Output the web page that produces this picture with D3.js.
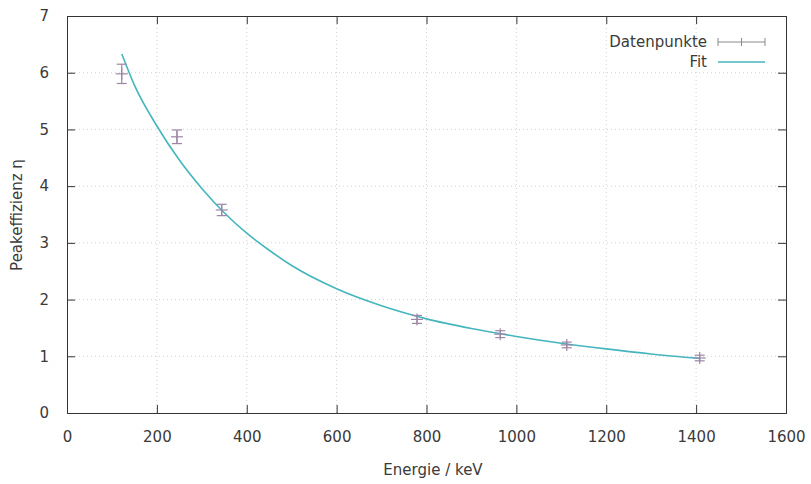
<!DOCTYPE html>
<html>
<head>
<meta charset="utf-8">
<script src="https://cdn.jsdelivr.net/npm/d3@7"></script>
<style>
  html, body { margin: 0; padding: 0; background: #fff; }
  svg { display: block; }
  text { font-family: "DejaVu Sans", Verdana, sans-serif; fill: #3a3a3a; }
</style>
</head>
<body>
<svg id="chart" width="811" height="484"></svg>
<script>
// ---- data ----
const energies = [121.8, 244.7, 344.3, 778.9, 964.1, 1112.1, 1408.0];
const efficiency = [5.98, 4.87, 3.58, 1.65, 1.39, 1.20, 0.97];
const efficiencyErr = [0.17, 0.12, 0.10, 0.07, 0.06, 0.05, 0.05];

const fitEnergy = [122, 150, 200, 250, 300, 350, 400, 450, 500, 600, 700, 800, 900, 1000, 1100, 1200, 1300, 1408];
const fitEff = [6.33, 5.78, 5.06, 4.46, 3.96, 3.53, 3.17, 2.87, 2.60, 2.19, 1.89, 1.66, 1.49, 1.35, 1.23, 1.13, 1.04, 0.96];

const xTicks = [0, 200, 400, 600, 800, 1000, 1200, 1400, 1600];
const yTicks = [0, 1, 2, 3, 4, 5, 6, 7];

const legendLabels = ["Datenpunkte", "Fit"];

// ---- layout ----
const svg = d3.select("#chart");
const pL = 67, pR = 786, pT = 16, pB = 413;
const x = d3.scaleLinear().domain([0, 1600]).range([pL, pR]);
const y = d3.scaleLinear().domain([0, 7]).range([pB, pT]);

const pointColor = "#9c86a6";
const fitColor = "#45b5be";
const frameColor = "#333";

// grid
const grid = svg.append("g");
grid.selectAll("line.gx").data(xTicks.slice(1, -1)).join("line")
  .attr("x1", d => x(d)).attr("x2", d => x(d)).attr("y1", pT).attr("y2", pB)
  .attr("stroke", "#d2d2d2").attr("stroke-width", 1).attr("stroke-dasharray", "1,3");
grid.selectAll("line.gy").data(yTicks.slice(1, -1)).join("line")
  .attr("y1", d => y(d)).attr("y2", d => y(d)).attr("x1", pL).attr("x2", pR)
  .attr("stroke", "#d2d2d2").attr("stroke-width", 1).attr("stroke-dasharray", "1,3");

// axes (ticks inside, mirrored)
const tl = 8;
const axB = svg.append("g").attr("transform", `translate(0,${pB})`)
  .call(d3.axisBottom(x).tickValues(xTicks).tickSize(-tl).tickPadding(18).tickFormat(d3.format("d")));
const axT = svg.append("g").attr("transform", `translate(0,${pT})`)
  .call(d3.axisTop(x).tickValues(xTicks).tickSize(-tl).tickFormat(""));
const axL = svg.append("g").attr("transform", `translate(${pL},0)`)
  .call(d3.axisLeft(y).tickValues(yTicks).tickSize(-tl).tickPadding(18).tickFormat(d3.format("d")));
const axR = svg.append("g").attr("transform", `translate(${pR},0)`)
  .call(d3.axisRight(y).tickValues(yTicks).tickSize(-tl).tickFormat(""));
[axB, axT, axL, axR].forEach(a => {
  a.select(".domain").attr("stroke", frameColor);
  a.selectAll(".tick line").attr("stroke", frameColor);
  a.selectAll(".tick text").attr("font-size", 15).attr("fill", "#3a3a3a")
    .style("font-family", "'DejaVu Sans', Verdana, sans-serif");
});
// remove end ticks at corners
axB.selectAll(".tick").filter(d => d === 0 || d === 1600).select("line").remove();
axT.selectAll(".tick").filter(d => d === 0 || d === 1600).select("line").remove();
axL.selectAll(".tick").filter(d => d === 0 || d === 7).select("line").remove();
axR.selectAll(".tick").filter(d => d === 0 || d === 7).select("line").remove();

// axis labels
svg.append("text").attr("x", 433).attr("y", 475).attr("text-anchor", "middle")
  .attr("font-size", 15).text("Energie / keV");
svg.append("text").attr("transform", "translate(22,215) rotate(-90)")
  .attr("text-anchor", "middle").attr("font-size", 15).text("Peakeffizienz η");

// fit curve
const line = d3.line().x(d => x(d[0])).y(d => y(d[1])).curve(d3.curveMonotoneX);
svg.append("path").datum(fitEnergy.map((e, i) => [e, fitEff[i]]))
  .attr("d", line).attr("fill", "none").attr("stroke", fitColor).attr("stroke-width", 1.6);

// data points with error bars
const pts = svg.append("g").selectAll("g").data(energies.map((e, i) => ({e, v: efficiency[i], err: efficiencyErr[i]}))).join("g");
const cap = 5, mark = 6;
pts.append("line").attr("x1", d => x(d.e)).attr("x2", d => x(d.e))
  .attr("y1", d => y(d.v - d.err)).attr("y2", d => y(d.v + d.err))
  .attr("stroke", pointColor).attr("stroke-width", 1.2);
pts.append("line").attr("x1", d => x(d.e) - cap).attr("x2", d => x(d.e) + cap)
  .attr("y1", d => y(d.v + d.err)).attr("y2", d => y(d.v + d.err))
  .attr("stroke", pointColor).attr("stroke-width", 1.2);
pts.append("line").attr("x1", d => x(d.e) - cap).attr("x2", d => x(d.e) + cap)
  .attr("y1", d => y(d.v - d.err)).attr("y2", d => y(d.v - d.err))
  .attr("stroke", pointColor).attr("stroke-width", 1.2);
pts.append("line").attr("x1", d => x(d.e) - mark).attr("x2", d => x(d.e) + mark)
  .attr("y1", d => y(d.v)).attr("y2", d => y(d.v))
  .attr("stroke", pointColor).attr("stroke-width", 1.2);
pts.append("line").attr("x1", d => x(d.e)).attr("x2", d => x(d.e))
  .attr("y1", d => y(d.v) - mark).attr("y2", d => y(d.v) + mark)
  .attr("stroke", pointColor).attr("stroke-width", 1.2);

// legend
const lg = svg.append("g");
const lx = 707, ly1 = 42, ly2 = 62;
lg.append("text").attr("x", lx).attr("y", ly1 + 5).attr("text-anchor", "end").attr("font-size", 15).text(legendLabels[0]);
lg.append("text").attr("x", lx).attr("y", ly2 + 5).attr("text-anchor", "end").attr("font-size", 15).text(legendLabels[1]);
const s0 = 718, s1 = 765;
lg.append("line").attr("x1", s0).attr("x2", s1).attr("y1", ly1).attr("y2", ly1).attr("stroke", "#8a8a8a").attr("stroke-width", 1);
[s0, (s0 + s1) / 2, s1].forEach(xx => {
  lg.append("line").attr("x1", xx).attr("x2", xx).attr("y1", ly1 - 4).attr("y2", ly1 + 4).attr("stroke", "#8a8a8a").attr("stroke-width", 1);
});
lg.append("line").attr("x1", s0).attr("x2", s1).attr("y1", ly2).attr("y2", ly2).attr("stroke", fitColor).attr("stroke-width", 1.6);
</script>
</body>
</html>
